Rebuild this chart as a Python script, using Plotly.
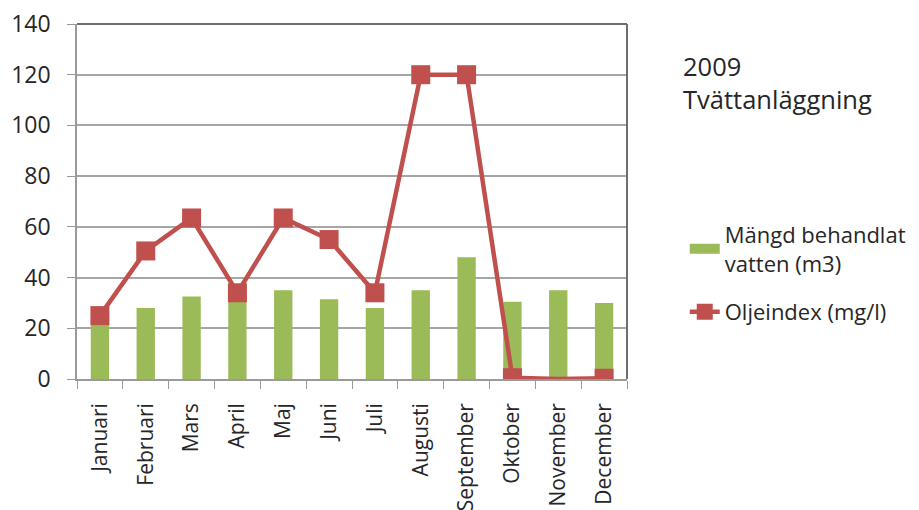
import plotly.graph_objects as go

months = ["Januari", "Februari", "Mars", "April", "Maj", "Juni", "Juli",
          "Augusti", "September", "Oktober", "November", "December"]
vatten_m3 = [21.5, 28, 32.5, 31, 35, 31.5, 28, 35, 48, 30.5, 35, 30]
oljeindex = [25, 50.5, 63.5, 34, 63.5, 55, 34, 120, 120, 0.5, 0, 0.3]
hidden_marker = ["November"]

GREEN = "#9BBB59"
RED = "#C0504D"
FONT = "Open Sans"
TEXT = "#262626"

marker_sizes = [0 if m in hidden_marker else 19 for m in months]

fig = go.Figure()
fig.add_trace(go.Bar(
    x=months, y=vatten_m3, name="Mängd behandlat<br>vatten (m3)",
    marker=dict(color=GREEN, line=dict(width=0)), width=0.4, showlegend=False,
))
# legend entry for the bars, drawn as a wide band like the original
fig.add_trace(go.Scatter(
    x=[None], y=[None], name="Mängd behandlat<br>vatten (m3)", mode="lines",
    line=dict(color=GREEN, width=10), hoverinfo="skip", legendgroup="a",
))
fig.add_trace(go.Scatter(
    x=months, y=oljeindex, name="Oljeindex (mg/l)", mode="lines+markers",
    line=dict(color=RED, width=4.5), opacity=1, legendgroup="b",
    marker=dict(symbol="square", size=marker_sizes, color=RED, opacity=1,
                line=dict(width=0)),
))

fig.update_layout(
    width=919, height=510,
    margin=dict(l=69, r=300, t=16, b=139, autoexpand=False),
    plot_bgcolor="white", paper_bgcolor="white",
    font=dict(family=FONT, size=20, color=TEXT),
    showlegend=True,
    legend=dict(x=1.105, y=0.298, xanchor="left", yanchor="middle",
                font=dict(size=22, color=TEXT), tracegroupgap=17,
                bgcolor="rgba(0,0,0,0)"),
    annotations=[dict(text="2009<br>Tvättanläggning", xref="paper", yref="paper",
                      x=1.098, y=0.936, xanchor="left", yanchor="top", showarrow=False,
                      align="left", font=dict(size=25.5, family=FONT, color=TEXT))],
    shapes=[
        dict(type="line", xref="x domain", yref="y domain", x0=0, x1=1, y0=1, y1=1,
             line=dict(color="#6e6e6e", width=2)),
        dict(type="line", xref="x domain", yref="y domain", x0=1, x1=1, y0=0, y1=1,
             line=dict(color="#6e6e6e", width=2)),
    ],
)
fig.update_xaxes(
    type="category", range=[-0.5, 11.5], tickangle=-90, automargin=False,
    tickson="boundaries", ticks="outside", ticklen=8, tickcolor="#9a9a9a",
    showline=True, linecolor="#9a9a9a", linewidth=1.5, showgrid=False,
    tickfont=dict(size=21, color=TEXT), ticklabelstandoff=14,
    ticklabeloverflow="allow",
)
fig.update_yaxes(
    range=[0, 140], dtick=20, ticks="outside", ticklen=8, tickcolor="#9a9a9a",
    showline=True, linecolor="#9a9a9a", linewidth=1.5, automargin=False,
    showgrid=True, gridcolor="#a6a6a6", gridwidth=1.5, zeroline=False,
    tickfont=dict(size=23, color=TEXT), ticklabelstandoff=12,
    ticklabeloverflow="allow",
)

fig.write_html("out.html")
